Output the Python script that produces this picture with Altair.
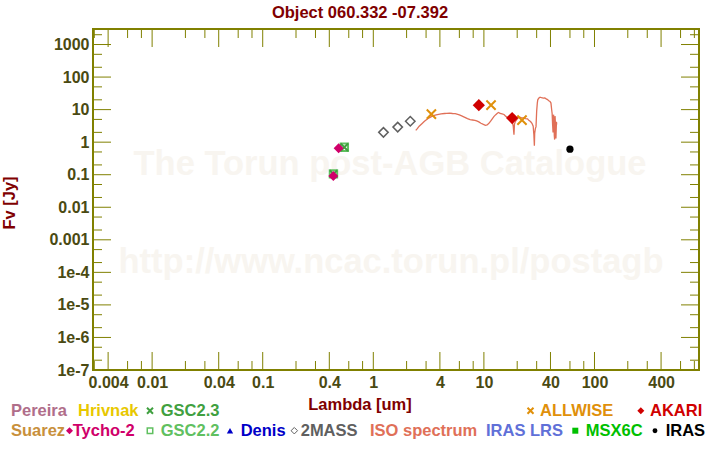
import altair as alt
import pandas as pd

# ---------------- data ----------------
TWOMASS_LAM = [1.235, 1.662, 2.159]
TWOMASS_F = [2.0, 2.9, 4.4]
ALLWISE_LAM = [3.35, 11.6, 22.1]
ALLWISE_F = [7.3, 13.7, 4.75]
AKARI_LAM = [9.0, 18.0]
AKARI_F = [13.7, 5.5]
IRAS_LAM = [60.0]
IRAS_F = [0.61]
TYCHO_LAM = [0.435, 0.486]
TYCHO_F = [0.092, 0.65]
GSC23_LAM = [0.436, 0.547]
GSC23_F = [0.106, 0.70]
GSC22_LAM = [0.436, 0.547]
GSC22_F = [0.106, 0.70]

ISO_LAM = [2.42, 2.5, 2.6, 2.75, 2.9, 3.04, 3.2, 3.35, 3.5, 3.7, 3.9, 4.1, 4.4, 4.6, 4.9,
           5.2, 5.5, 5.7, 6.0, 6.3, 6.5, 6.8, 7.1, 7.5, 7.9, 8.3, 8.6, 9.0, 9.4, 9.9,
           10.3, 10.7, 11.1, 11.5, 11.9, 12.3, 12.8, 13.3, 13.6, 14.0, 14.6, 15.2, 15.8,
           16.4, 17.0, 17.6, 18.0, 18.4, 18.7, 18.9, 19.3, 19.8, 20.4, 21.0, 21.8, 22.8,
           23.8, 24.8, 25.6, 26.4, 27.2, 27.9, 28.3, 28.6, 28.8, 29.2, 29.6, 30.0, 30.4,
           30.7, 31.3, 32.2, 33.2, 34.4, 35.5, 36.6, 37.6, 38.6, 39.6, 40.4, 41.0, 41.4,
           41.8, 42.2, 42.6, 43.0, 43.3, 43.6, 44.0, 44.4, 44.8, 45.3, 45.5]
ISO_F = [2.3, 2.6, 3.1, 3.7, 4.4, 5.0, 5.6, 6.1, 6.5, 6.9, 7.2, 7.4, 7.6, 7.7, 7.8,
         7.6, 7.5, 7.3, 6.9, 6.4, 6.1, 5.7, 5.3, 4.9, 4.8, 4.7, 4.5, 4.2, 3.8, 3.5,
         3.3, 3.4, 3.8, 4.4, 5.2, 6.1, 7.0, 7.9, 8.2, 7.6, 7.4, 7.1, 6.2,
         5.7, 5.1, 4.7, 4.4, 3.2, 1.7, 3.6, 4.4, 4.9, 5.6, 5.9, 5.7, 5.6,
         5.3, 5.2, 4.6, 4.3, 3.8, 3.1, 1.7, 0.78, 1.9, 2.6, 3.0, 9.0, 15.8,
         20.0, 22.6, 24.2, 23.2, 22.6, 22.8, 21.4, 20.3, 18.8, 17.8, 15.9, 9.9, 7.6,
         3.5, 2.0, 7.0, 5.5, 1.6, 1.2, 6.3, 3.3, 1.3, 4.2, 3.5]

X_MAJOR = [0.004, 0.01, 0.04, 0.1, 0.4, 1, 4, 10, 40, 100, 400]
X_MINOR = [0.003, 0.006, 0.008, 0.02, 0.03, 0.06, 0.08, 0.2, 0.3, 0.6, 0.8,
           2, 3, 6, 8, 20, 30, 60, 80, 200, 300, 600, 800]
Y_MAJOR = [1e-7, 1e-6, 1e-5, 1e-4, 0.001, 0.01, 0.1, 1, 10, 100, 1000]
Y_MINOR = [2e-7, 5e-7, 2e-6, 5e-6, 2e-5, 5e-5, 2e-4, 5e-4, 0.002, 0.005, 0.02, 0.05,
           0.2, 0.5, 2, 5, 20, 50, 200, 500, 2000]

TITLE = "Object 060.332 -07.392"
X_TITLE = "Lambda [um]"
Y_TITLE = "Fv [Jy]"
WATERMARK1 = "The Torun post-AGB Catalogue"
WATERMARK2 = "http://www.ncac.torun.pl/postagb"

# ---------------- style / layout ----------------
W, H = 606, 341
FONT = "Liberation Sans"
OLIVE = "#808000"
LABEL = "#4a4a12"
DARKRED = "#800000"
XPATH = "M-1,-1L1,1M1,-1L-1,1"

xs = alt.Scale(type="log", domain=[0.00292, 881], nice=False)
ys = alt.Scale(type="log", domain=[1e-7, 3000], nice=False)

x_axis = alt.Axis(values=X_MAJOR, format="~g", ticks=False, tickSize=0, domain=False,
                  grid=False, labelFont=FONT, labelFontSize=16, labelFontWeight="bold",
                  labelColor=LABEL, labelPadding=4, labelOverlap=False, labelFlush=False,
                  title=None)
y_axis = alt.Axis(values=Y_MAJOR,
                  labelExpr="datum.value >= 0.001 ? format(datum.value, '~g') : '1e' + round(log(datum.value) / LN10)",
                  ticks=False, tickSize=0, domain=False, grid=False, labelFont=FONT,
                  labelFontSize=16, labelFontWeight="bold", labelColor=LABEL,
                  labelPadding=4, labelOverlap=False, labelFlush=False, title=None)


def X(field):
    return alt.X(field, scale=xs, axis=x_axis)


def Y(field):
    return alt.Y(field, scale=ys, axis=y_axis)


def text(s, x, y, size, color, align="left", angle=0, baseline="alphabetic"):
    return alt.Chart(pd.DataFrame({"t": [s]})).mark_text(
        font=FONT, fontSize=size, fontWeight="bold", color=color,
        align=align, baseline=baseline, angle=angle
    ).encode(x=alt.value(x), y=alt.value(y), text="t:N")


def sym(x, y, shape, color, size, filled=True, sw=1.0):
    return alt.Chart(pd.DataFrame({"a": [0]})).mark_point(
        shape=shape, color=color, size=size, filled=filled, strokeWidth=sw, opacity=1
    ).encode(x=alt.value(x), y=alt.value(y))


def pts(lam, f, shape, color, size, filled=True, sw=1.0):
    df = pd.DataFrame({"lam": lam, "f": f})
    return alt.Chart(df).mark_point(
        shape=shape, color=color, size=size, filled=filled, strokeWidth=sw, opacity=1
    ).encode(x=X("lam:Q"), y=Y("f:Q"))


def xticks(vals, y0, y1):
    return alt.Chart(pd.DataFrame({"v": vals})).mark_rule(color=OLIVE, strokeWidth=1).encode(
        x=X("v:Q"), y=alt.value(y0), y2=alt.value(y1))


def yticks(vals, x0, x1):
    return alt.Chart(pd.DataFrame({"v": vals})).mark_rule(color=OLIVE, strokeWidth=1).encode(
        y=Y("v:Q"), x=alt.value(x0), x2=alt.value(x1))


layers = [
    text(WATERMARK1, 297, 146, 34.5, "#f8f5f0", align="center"),
    text(WATERMARK2, 298, 244, 34.5, "#f8f5f0", align="center"),
    xticks(X_MAJOR, H, H - 18),
    xticks(X_MINOR, H, H - 9),
    xticks(X_MAJOR, 0, 18),
    xticks(X_MINOR, 0, 9),
    yticks(Y_MAJOR, 0, 18),
    yticks(Y_MINOR, 0, 9),
    yticks(Y_MAJOR, W, W - 18),
    yticks(Y_MINOR, W, W - 9),
]

iso_df = pd.DataFrame({"lam": ISO_LAM, "f": ISO_F, "i": list(range(len(ISO_LAM)))})
layers.append(alt.Chart(iso_df).mark_line(color="#e07058", strokeWidth=1.3).encode(
    x=X("lam:Q"), y=Y("f:Q"), order="i:Q"))

layers += [
    pts(TWOMASS_LAM, TWOMASS_F, "diamond", "#606060", 90, filled=False, sw=1.5),
    pts(GSC22_LAM, GSC22_F, "square", "#60c060", 55, filled=False, sw=2),
    pts(GSC23_LAM, GSC23_F, XPATH, "#40a040", 55, filled=False, sw=2),
    pts(TYCHO_LAM, TYCHO_F, "diamond", "#d0006a", 100),
    pts(ALLWISE_LAM, ALLWISE_F, XPATH, "#e0900a", 85, filled=False, sw=2),
    pts(AKARI_LAM, AKARI_F, "diamond", "#d00000", 150),
    pts(IRAS_LAM, IRAS_F, "circle", "black", 52),
]

# titles
layers += [
    text(TITLE, 267, -11.5, 16.5, DARKRED, align="center"),
    text(X_TITLE, 267, 381, 16.5, DARKRED, align="center"),
    text(Y_TITLE, -83, 174, 16.5, DARKRED, align="center", angle=270, baseline="middle"),
]

# legend
R1T, R2T = 387, 407       # text baselines
R1S, R2S = 381.7, 401.7   # symbol centres
LS = 16.5
layers += [
    text("Pereira", -82, R1T, LS, "#b06e8a"),
    text("Hrivnak", -15, R1T, LS, "#e8c800"),
    sym(57, R1S, XPATH, "#40a040", 36, filled=False, sw=2),
    text("GSC2.3", 67.7, R1T, LS, "#40a040"),
    sym(437.5, R1S, XPATH, "#e0900a", 36, filled=False, sw=2),
    text("ALLWISE", 447, R1T, LS, "#e0900a"),
    sym(547.8, R1S, "diamond", "#d00000", 49),
    text("AKARI", 557, R1T, LS, "#d00000"),
    text("Suarez", -82, R2T, LS, "#c8903c"),
    sym(-23.5, R2S, "diamond", "#d0006a", 49),
    text("Tycho-2", -20.3, R2T, LS, "#d0006a"),
    sym(57, R2S, "square", "#60c060", 30, filled=False, sw=1.5),
    text("GSC2.2", 67.7, R2T, LS, "#60c060"),
    sym(137, R2S, "triangle-up", "#0000c8", 40),
    text("Denis", 147.7, R2T, LS, "#0000c8"),
    sym(201.3, R2S, "diamond", "#606060", 42, filled=False, sw=1),
    text("2MASS", 207.7, R2T, LS, "#606060"),
    text("ISO spectrum", 277, R2T, LS, "#e07058"),
    text("IRAS LRS", 393, R2T, LS, "#6070d8"),
    sym(482.3, R2S, "square", "#00c000", 36),
    text("MSX6C", 492.7, R2T, LS, "#00c000"),
    sym(562, R2S, "circle", "black", 24),
    text("IRAS", 572.7, R2T, LS, "black"),
]

chart = alt.layer(*layers).properties(
    width=W, height=H,
    autosize=alt.AutoSizeParams(type="none"),
    padding={"left": 93, "top": 29, "right": 21, "bottom": 80},
    background="white",
).configure_view(stroke=OLIVE, strokeWidth=2)

chart.save("out.html", embed_options={"renderer": "svg", "actions": False})
